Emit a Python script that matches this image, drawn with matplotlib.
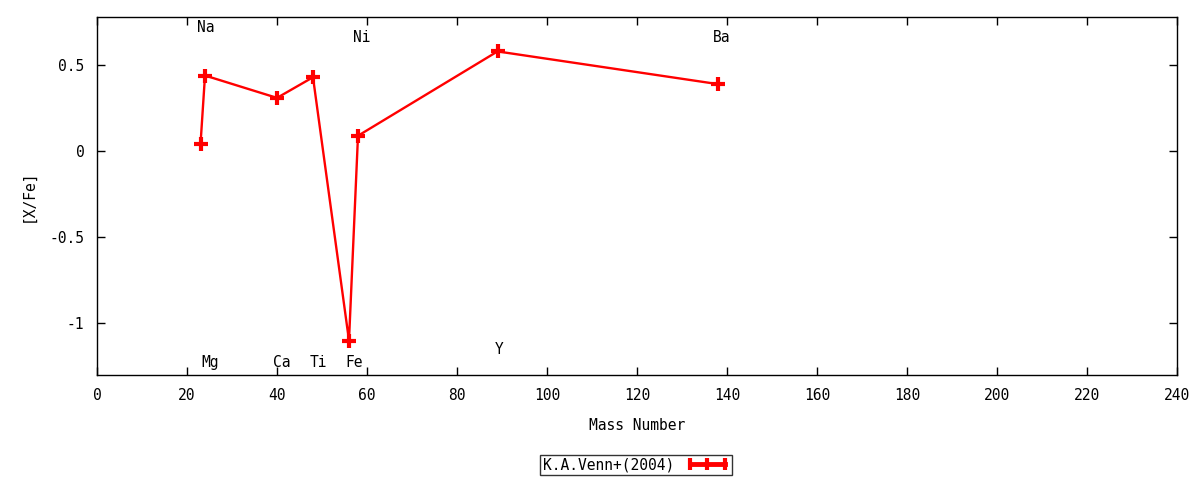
import matplotlib
matplotlib.use("Agg")
import matplotlib.pyplot as plt
from matplotlib.lines import Line2D

plt.rcParams['font.family'] = ['DejaVu Sans Mono']
plt.rcParams['axes.unicode_minus'] = False
plt.rcParams['font.size'] = 10.5

# data
elements = ["Na", "Mg", "Ca", "Ti", "Fe", "Ni", "Y", "Ba"]
mass_number = [23, 24, 40, 48, 56, 58, 89, 138]
x_fe = [0.04, 0.44, 0.31, 0.43, -1.10, 0.09, 0.58, 0.39]
label_x = [24.2, 25.1, 41.1, 49.1, 57.1, 58.9, 89.3, 138.9]
label_y = [0.72, -1.23, -1.23, -1.23, -1.23, 0.66, -1.15, 0.66]
series_name = "K.A.Venn+(2004)"
x_ticks = list(range(0, 241, 20))
y_ticks = [-1, -0.5, 0, 0.5]
y_tick_labels = ["-1", "-0.5", "0", "0.5"]

fig = plt.figure(figsize=(12, 4.8), dpi=100)
ax = fig.add_axes([97/1200, 1-375/480, (1177-97)/1200, (375-17)/480])

ax.plot(mass_number, x_fe, color='red', lw=1.7, marker='+', ms=10, mew=3)

for name, lx, ly in zip(elements, label_x, label_y):
    ax.text(lx, ly, name, ha='center', va='center', fontsize=10.5)

ax.set_xlim(0, 240)
ax.set_ylim(-1.3, 0.78)
ax.set_xticks(x_ticks)
ax.set_xticklabels([str(t) for t in x_ticks])
ax.set_yticks(y_ticks)
ax.set_yticklabels(y_tick_labels)
ax.tick_params(direction='in', top=True, right=True, length=6, width=1, labelsize=10.5, pad=9)
for s in ax.spines.values():
    s.set_linewidth(1)
ax.set_xlabel("Mass Number", fontsize=10.5, labelpad=11)
ax.set_ylabel("[X/Fe]", fontsize=10.5, labelpad=10)

handle = Line2D([0], [0], color='red', lw=3.5, marker='|', ms=9, mew=3)
leg = fig.legend([handle], [series_name], loc='center', bbox_to_anchor=(636/1200, 1-465/480),
                 frameon=True, fancybox=False, edgecolor='black', numpoints=3,
                 handlelength=3.0, markerfirst=False, borderpad=0.2, fontsize=10.5,
                 handletextpad=0.8)
leg.get_frame().set_linewidth(1)

fig.savefig("out.png", dpi=100)
